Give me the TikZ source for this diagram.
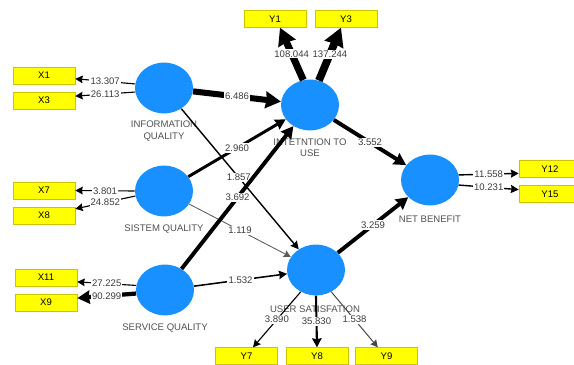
\documentclass[tikz,border=0pt]{standalone}
\usepackage{fontspec}
\setmainfont{Liberation Sans}
\usetikzlibrary{shapes.geometric,arrows.meta}
\begin{document}
\begin{tikzpicture}[x=0.025cm,y=-0.025cm,
  every node/.style={font=\fontsize{6.8}{8}\selectfont, text={rgb,255:red,60;green,60;blue,60}},
  latent/.style={ellipse, fill={rgb,255:red,24;green,144;blue,255}, minimum width=1.45cm, minimum height=1.27cm, inner sep=0pt},
  ind/.style={rectangle, fill={rgb,255:red,255;green,255;blue,0}, draw={rgb,255:red,205;green,195;blue,0}, line width=0.4pt, minimum width=1.55cm, minimum height=0.42cm, inner sep=0pt, text=black},
  cname/.style={align=center, inner sep=0pt, text={rgb,255:red,80;green,80;blue,80}},
  val/.style={fill=white, inner sep=0.8pt, pos=0.5},
  load/.style={line width=#1pt, -{Stealth[length=4pt 1.6,width=4pt 1.8,inset=0.6pt]}}
]
\useasboundingbox (0,0) rectangle (574,365);
\node[latent] (iq) at (164,88) {};
\node[latent] (sq) at (164,191) {};
\node[latent] (svq) at (165,290) {};
\node[latent] (iu) at (310,105) {};
\node[latent] (us) at (316,270) {};
\node[latent] (nb) at (430,180) {};
\node[cname] (iqname) at (164,131) {INFORMATION\\QUALITY};
\node[cname] (sqname) at (164,229) {SISTEM QUALITY};
\node[cname] (svqname) at (165,328) {SERVICE QUALITY};
\node[cname] (iuname) at (310,148) {INTETNTION TO\\USE};
\node[cname] (usname) at (315,309) {USER SATISFATION};
\node[cname] (nbname) at (430,219) {NET BENEFIT};
\node[ind] (x1) at (44,75.5) {X1};
\node[ind] (x3) at (44,100.5) {X3};
\node[ind] (x7) at (44,190.5) {X7};
\node[ind] (x8) at (44,215.5) {X8};
\node[ind] (x11) at (46,277.5) {X11};
\node[ind] (x9) at (46,302.5) {X9};
\node[ind] (y1) at (275,19) {Y1};
\node[ind] (y3) at (346,19) {Y3};
\node[ind] (y12) at (550,169) {Y12};
\node[ind] (y15) at (550,194) {Y15};
\node[ind] (y7) at (246.5,356) {Y7};
\node[ind] (y8) at (317,356) {Y8};
\node[ind] (y9) at (386.5,356) {Y9};
\draw[load=0.8] (iq.172) -- node[val] {13.307} (x1.354);
\draw[load=0.8] (iq.188) -- node[val] {26.113} (x3.8);
\draw[load=0.8] (sq.west) -- node[val] {3.801} (x7.east);
\draw[load=0.8] (sq.190) -- node[val] {24.852} (x8.12);
\draw[load=0.8] (svq.171) -- node[val] {27.225} (x11.352);
\draw[load=3] (svq.187) -- node[val] {90.299} (x9.8);
\draw[load=5] (iu.105) -- node[val] {108.044} (y1.-60);
\draw[load=5.5] (iu.70) -- node[val] {137.244} (y3.-120);
\draw[load=1] (nb.10) -- node[val] {11.558} (y12.188);
\draw[load=1] (nb.-10) -- node[val] {10.231} (y15.172);
\draw[load=0.8] (us.235) -- node[val] {3.890} (y7.53);
\draw[load=1.5] (us.south) -- node[val] {35.830} (y8.north);
\draw[load=0.7, draw={rgb,255:red,70;green,70;blue,70}] (us.-55) -- node[val] {1.538} (y9.135);
\draw[load=4.3] (iq) -- node[val] {6.486} (iu);
\draw[load=1] (iq) -- node[val, pos=0.49] {1.857} (us);
\draw[load=2.1] (sq) -- node[val] {2.960} (iu);
\draw[load=0.6, draw={rgb,255:red,90;green,90;blue,90}] (sq) -- node[val] {1.119} (us);
\draw[load=2.8] (svq) -- node[val] {3.692} (iu);
\draw[load=1.1] (svq) -- node[val] {1.532} (us);
\draw[load=2.8] (iu) -- node[val] {3.552} (nb);
\draw[load=2.8] (us) -- node[val] {3.259} (nb);
\end{tikzpicture}
\end{document}
